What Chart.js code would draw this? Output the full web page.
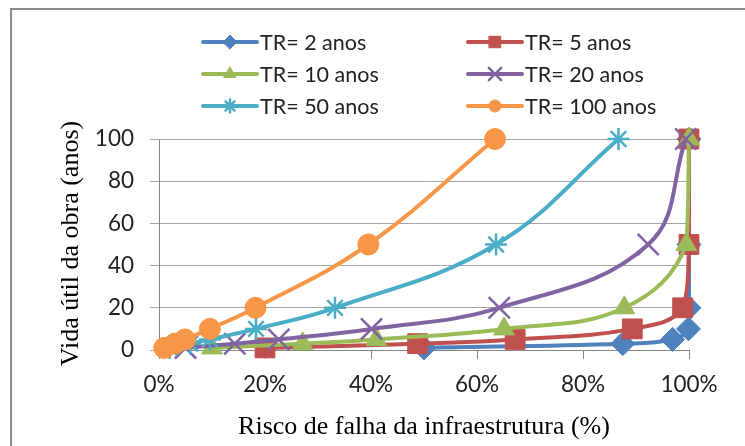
<!DOCTYPE html>
<html>
<head>
<meta charset="utf-8">
<script src="https://cdn.jsdelivr.net/npm/chart.js@4"></script>
<style>
    html, body { margin: 0; padding: 0; background: #fff; overflow: hidden; }
    #frame { position: absolute; left: 10px; top: 8px; width: 800px; height: 500px; border: 2px solid #8c8c8c; box-sizing: border-box; }
    #wrap { position: absolute; left: 0; top: 0; width: 745px; height: 446px; }
</style>
</head>
<body>
<div id="frame"></div>
<div id="wrap"><canvas id="riskChart" width="745" height="446"></canvas></div>
<script>
/* Vida útil x risco de falha, por período de retorno */
const lifeYears = [1, 3, 5, 10, 20, 50, 100];

const riskTR2   = [50, 87.5, 96.9, 99.9, 100, 100, 100];
const riskTR5   = [20, 48.8, 67.2, 89.3, 98.8, 100, 100];
const riskTR10  = [10, 27.1, 41.0, 65.1, 87.8, 99.5, 100];
const riskTR20  = [5, 14.3, 22.6, 40.1, 64.2, 92.3, 99.4];
const riskTR50  = [2, 5.9, 9.6, 18.3, 33.2, 63.6, 86.7];
const riskTR100 = [1, 3.0, 4.9, 9.6, 18.2, 39.5, 63.4];

const seriesLabels = ['TR= 2 anos', 'TR= 5 anos', 'TR= 10 anos', 'TR= 20 anos', 'TR= 50 anos', 'TR= 100 anos'];
const xTicks = [0, 20, 40, 60, 80, 100];
const yTicks = [0, 20, 40, 60, 80, 100];
const yTitle = 'Vida útil da obra (anos)';

const COLORS = ['#4F81BD', '#C0504D', '#9BBB59', '#8064A2', '#4BACC6', '#F79646'];
const STYLES = ['rectRot', 'rect', 'triangle', 'crossRot', 'star', 'circle'];
const RADII  = [12, 14, 12, 15, 11, 10.5];
const MARKER_BW = [1, 1, 1, 2.5, 2.5, 1];

const TEXT = '#222222';
const AXIS = '#868686';
const GRID = '#a6a6a6';

function mkSeries(i, xs) {
    return {
        label: seriesLabels[i],
        data: xs.map((x, k) => ({ x: x, y: lifeYears[k] })),
        showLine: true,
        clip: false,
        borderColor: COLORS[i],
        backgroundColor: COLORS[i],
        borderWidth: 4,
        borderCapStyle: 'round',
        borderJoinStyle: 'round',
        tension: 0.4,
        pointStyle: STYLES[i],
        pointRadius: RADII[i],
        pointBorderWidth: MARKER_BW[i],
        pointBackgroundColor: COLORS[i],
        pointBorderColor: COLORS[i],
        order: 6 - i
    };
}

// Excel-like legend (two columns, three rows) + rotated y title
const extras = {
    id: 'extras',
    afterDraw(chart, args, opts) {
        const ctx = chart.ctx;
        chart.data.datasets.forEach((ds, i) => {
            const x0 = opts.colX[i % 2];
            const y = opts.rowY[Math.floor(i / 2)];
            ctx.save();
            ctx.strokeStyle = ds.borderColor;
            ctx.fillStyle = ds.borderColor;
            ctx.lineWidth = 4;
            ctx.lineCap = 'round';
            ctx.beginPath();
            ctx.moveTo(x0, y);
            ctx.lineTo(x0 + opts.lineLen, y);
            ctx.stroke();
            ctx.lineWidth = ds.pointBorderWidth;
            Chart.helpers.drawPoint(ctx, {
                pointStyle: ds.pointStyle,
                radius: ds.pointRadius * 0.58,
                borderWidth: ds.pointBorderWidth,
                rotation: 0
            }, x0 + opts.lineLen / 2, y);
            ctx.fillStyle = TEXT;
            ctx.font = '21.5px Lato';
            ctx.textBaseline = 'middle';
            ctx.textAlign = 'left';
            ctx.fillText(ds.label, x0 + opts.lineLen + 3, y + 1);
            ctx.restore();
        });

        const area = chart.chartArea;
        ctx.save();
        ctx.translate(opts.yTitleX, (area.top + area.bottom) / 2 - 1);
        ctx.rotate(-Math.PI / 2);
        ctx.fillStyle = '#000';
        ctx.font = '26px "Liberation Serif"';
        ctx.textAlign = 'center';
        ctx.textBaseline = 'middle';
        ctx.fillText(yTitle, 0, 0);
        ctx.restore();
    }
};

new Chart(document.getElementById('riskChart'), {
    type: 'scatter',
    data: {
        datasets: [
            mkSeries(0, riskTR2),
            mkSeries(1, riskTR5),
            mkSeries(2, riskTR10),
            mkSeries(3, riskTR20),
            mkSeries(4, riskTR50),
            mkSeries(5, riskTR100)
        ]
    },
    plugins: [extras],
    options: {
        responsive: false,
        animation: false,
        layout: { padding: { top: 139, right: 56, left: 0, bottom: 0 } },
        plugins: {
            legend: { display: false },
            tooltip: { enabled: false },
            extras: { colX: [203, 468], rowY: [42, 74, 106], lineLen: 54, yTitleX: 71 }
        },
        scales: {
            x: {
                type: 'linear',
                min: 0, max: 100,
                afterBuildTicks: s => { s.ticks = xTicks.map(v => ({ value: v })); },
                afterFit: s => { s.height = 96; },
                ticks: { callback: v => v + '%', color: TEXT, font: { family: 'Lato', size: 22.5 }, padding: 12, maxRotation: 0 },
                grid: { drawOnChartArea: false, drawTicks: true, tickLength: 9, color: AXIS },
                border: { color: AXIS },
                title: {
                    display: true, text: 'Risco de falha da infraestrutura (%)',
                    color: '#000', font: { family: 'Liberation Serif', size: 26 },
                    padding: { top: 0, bottom: 3 }
                }
            },
            y: {
                type: 'linear',
                min: 0, max: 100,
                afterBuildTicks: s => { s.ticks = yTicks.map(v => ({ value: v })); },
                afterFit: s => { s.width = 159; },
                ticks: { color: TEXT, font: { family: 'Lato', size: 22.5 }, padding: 16 },
                grid: { color: GRID, tickLength: 9 },
                border: { color: AXIS }
            }
        }
    }
});
</script>
</body>
</html>
